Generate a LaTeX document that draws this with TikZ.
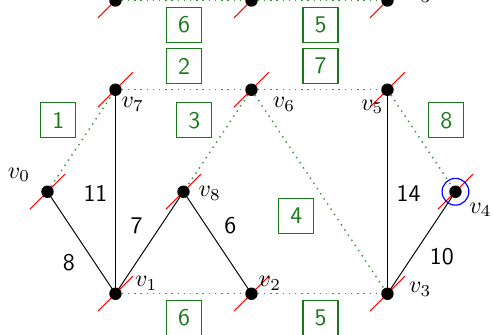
\documentclass[tikz,border=0pt]{standalone}
\usetikzlibrary{calc}
\definecolor{boxgreen}{RGB}{25,120,25}
\definecolor{dotgreen}{RGB}{60,145,60}
\begin{document}
\begin{tikzpicture}[x=1cm,y=1cm,
  vtx/.style={circle, fill=black, inner sep=0pt, minimum size=5.2pt},
  wbox/.style={draw=boxgreen, text=boxgreen, minimum size=14.6pt, inner sep=0pt, font=\sffamily, line width=0.5pt},
  gdot/.style={draw=dotgreen, dotted, line width=0.6pt},
  edge/.style={draw=black, line width=0.42pt},
  elab/.style={font=\sffamily, inner sep=0pt},
  vlab/.style={inner sep=0pt},
  slash/.style={draw=red, line width=0.45pt},
  mark4/.style={draw=blue, line width=0.5pt}]
\useasboundingbox (-1.698,-0.606) rectangle (5.552,4.320);
% vertex positions
\coordinate (v0) at (-1,1.5);
\coordinate (v1) at (0,0);
\coordinate (v8) at (1,1.5);
\coordinate (v2) at (2,0);
\coordinate (v3) at (4,0);
\coordinate (v4) at (5,1.5);
\coordinate (v7) at (0,3);
\coordinate (v6) at (2,3);
\coordinate (v5) at (4,3);
\coordinate (ta) at (0,4.313);
\coordinate (tb) at (2,4.313);
\coordinate (tc) at (4,4.313);
% dotted (non-tree) edges
\draw[gdot] (v0) -- (v7);
\draw[gdot] (v7) -- (v6);
\draw[gdot] (v6) -- (v5);
\draw[gdot] (v6) -- (v8);
\draw[gdot] (v6) -- (v3);
\draw[gdot] (v5) -- (v4);
\draw[gdot] (v1) -- (v2);
\draw[gdot] (v2) -- (v3);
\draw[gdot] (ta) -- (tb);
\draw[gdot] (tb) -- (tc);
% solid edges
\draw[edge] (v0) -- (v1);
\draw[edge] (v7) -- (v1);
\draw[edge] (v1) -- (v8);
\draw[edge] (v8) -- (v2);
\draw[edge] (v5) -- (v3);
\draw[edge] (v3) -- (v4);
% red slashes
\foreach \v in {v0,v1,v2,v3,v4,v5,v6,v7,v8,ta,tb,tc}
  \draw[slash] ($(\v)+(-7.3pt,-7.3pt)$) -- ($(\v)+(7.3pt,7.3pt)$);
% dots
\foreach \v in {v0,v1,v2,v3,v4,v5,v6,v7,v8,ta,tb,tc}
  \node[vtx] (d\v) at (\v) {};
\draw[mark4] (v4) circle (5.6pt);
% vertex labels
\node[vlab] (l0) at ($(v0)+(-11.9pt,7.0pt)$) {$v_0$};
\node[vlab] (l1) at ($(v1)+(12.9pt,4.4pt)$) {$v_1$};
\node[vlab] (l2) at ($(v2)+(7.7pt,4.4pt)$) {$v_2$};
\node[vlab] (l3) at ($(v3)+(13.7pt,1.9pt)$) {$v_3$};
\node[vlab] (l4) at ($(v4)+(10.5pt,-7.6pt)$) {$v_4$};
\node[vlab] (l5) at ($(v5)+(-6.4pt,-7.1pt)$) {$v_5$};
\node[vlab] (l6) at ($(v6)+(13.6pt,-6.2pt)$) {$v_6$};
\node[vlab] (l7) at ($(v7)+(7.2pt,-6.0pt)$) {$v_7$};
\node[vlab] (l8) at ($(v8)+(11pt,-0.6pt)$) {$v_8$};
\node[vlab] (lt) at ($(tc)+(13.7pt,1.9pt)$) {$v_3$};
% edge weights
\node[elab] (w8) at (-0.687,0.453) {8};
\node[elab] (w11) at (-0.294,1.48) {11};
\node[elab] (w7) at (0.309,1.0) {7};
\node[elab] (w6) at (1.69,1.0) {6};
\node[elab] (w14) at (4.31,1.48) {14};
\node[elab] (w10) at (4.80,0.55) {10};
% face boxes
\node[wbox] (f1) at (-0.841,2.55) {1};
\node[wbox] (f3) at (1.159,2.55) {3};
\node[wbox] (f8) at (4.865,2.55) {8};
\node[wbox] (f4) at (2.659,1.144) {4};
\node[wbox] (f2) at (1.01,3.346) {2};
\node[wbox] (f7) at (3.015,3.346) {7};
\node[wbox] (f6t) at (1.01,3.957) {6};
\node[wbox] (f5t) at (3.015,3.957) {5};
\node[wbox] (f6b) at (1.01,-0.354) {6};
\node[wbox] (f5b) at (3.015,-0.354) {5};
\end{tikzpicture}
\end{document}
